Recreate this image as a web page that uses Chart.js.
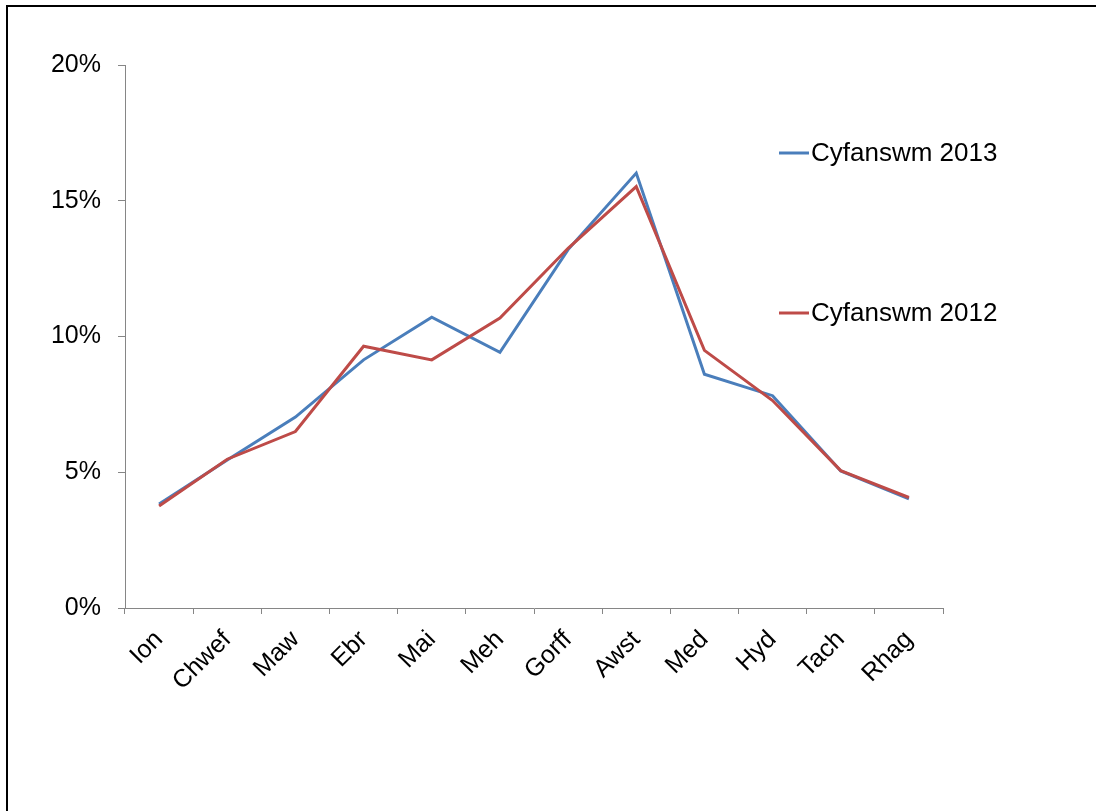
<!DOCTYPE html>
<html>
<head>
<meta charset="utf-8">
<script src="https://cdn.jsdelivr.net/npm/chart.js@4/dist/chart.umd.min.js"></script>
<style>
  html, body { margin: 0; padding: 0; background: #fff; overflow: hidden; }
  #frame { position: absolute; left: 6px; top: 5px; width: 1100px; height: 820px; border: 2px solid #000; }
  #salesChart { position: absolute; left: 0; top: 0; }
</style>
</head>
<body>
<div id="frame"></div>
<canvas id="salesChart" width="1096" height="811"></canvas>
<script>
// months (Welsh)
const months = ['Ion', 'Chwef', 'Maw', 'Ebr', 'Mai', 'Meh', 'Gorff', 'Awst', 'Med', 'Hyd', 'Tach', 'Rhag'];
// share of the year's total, percent
const total2013 = [3.83, 5.45, 7.03, 9.14, 10.71, 9.42, 13.2, 16.02, 8.61, 7.82, 5.05, 4.02];
const total2012 = [3.76, 5.48, 6.50, 9.64, 9.14, 10.68, 13.25, 15.52, 9.49, 7.64, 5.06, 4.07];
const yTicks = [0, 5, 10, 15, 20];
const seriesNames = ['Cyfanswm 2013', 'Cyfanswm 2012'];

const font = '"Liberation Sans", Arial, sans-serif';
const axisGrey = '#868686';

// legend drawn by hand, Excel puts the two entries far apart
const sideLegend = {
    id: 'sideLegend',
    afterDraw(chart) {
        const ctx = chart.ctx;
        const rows = [153, 313];
        ctx.save();
        chart.data.datasets.forEach((ds, i) => {
            const y = rows[i];
            ctx.strokeStyle = ds.borderColor;
            ctx.lineWidth = 3;
            ctx.beginPath();
            ctx.moveTo(779, y);
            ctx.lineTo(809, y);
            ctx.stroke();
            ctx.fillStyle = '#000';
            ctx.font = '26px ' + font;
            ctx.textBaseline = 'middle';
            ctx.textAlign = 'left';
            ctx.fillText(ds.label, 811, y + 1);
        });
        ctx.restore();
    }
};

var ctx = document.getElementById('salesChart').getContext('2d');
var chart = new Chart(ctx, {
    type: 'line',
    data: {
        labels: months,
        datasets: [{
            label: seriesNames[0],
            data: total2013,
            borderColor: '#4A7EBB',
            borderWidth: 3,
            pointRadius: 0,
            tension: 0,
            order: 1
        }, {
            label: seriesNames[1],
            data: total2012,
            borderColor: '#BE4B48',
            borderWidth: 3,
            pointRadius: 0,
            tension: 0,
            order: 0
        }]
    },
    options: {
        responsive: false,
        devicePixelRatio: 1,
        animation: false,
        layout: { padding: { top: 65, right: 153, left: 0, bottom: 0 } },
        plugins: {
            legend: { display: false },
            tooltip: { enabled: false }
        },
        scales: {
            x: {
                offset: true,
                grid: { offset: true, drawOnChartArea: false, color: axisGrey, tickLength: 6 },
                border: { color: axisGrey, width: 1 },
                ticks: {
                    color: '#000',
                    font: { family: font, size: 25 },
                    minRotation: 45,
                    maxRotation: 45,
                    padding: 11
                },
                afterFit(scale) { scale.height = 203; }
            },
            y: {
                min: 0,
                max: 20,
                afterBuildTicks(scale) { scale.ticks = yTicks.map(v => ({ value: v })); },
                grid: { drawOnChartArea: false, color: axisGrey, tickLength: 7 },
                border: { color: axisGrey, width: 1 },
                ticks: {
                    color: '#000',
                    font: { family: font, size: 25 },
                    padding: 17,
                    callback: v => v + '%'
                },
                afterFit(scale) { scale.width = 125; }
            }
        }
    },
    plugins: [sideLegend]
});
</script>
</body>
</html>
